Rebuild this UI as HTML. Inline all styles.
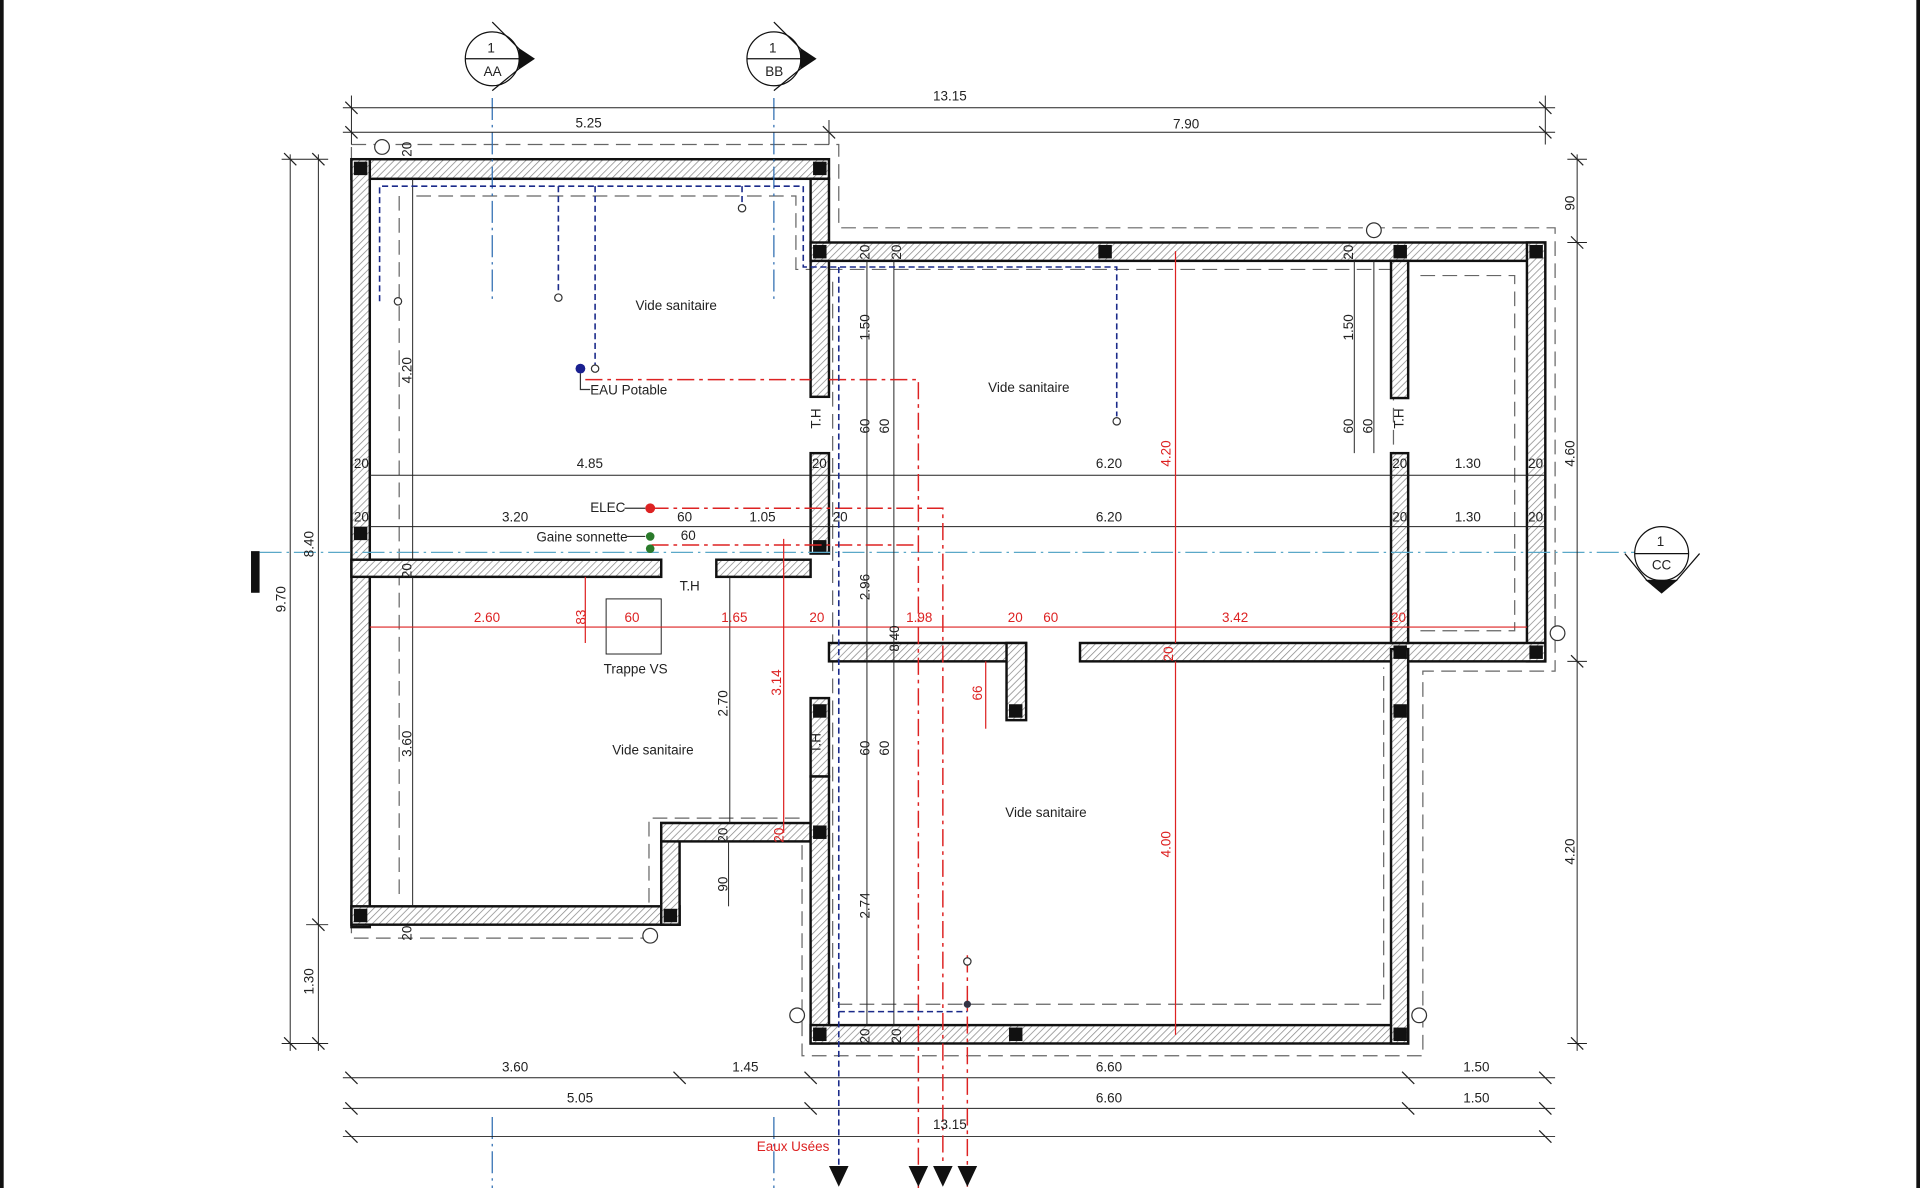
<!DOCTYPE html>
<html><head><meta charset="utf-8"><style>
html,body{margin:0;padding:0;background:#fff;}
svg{display:block;}
text{font-family:"Liberation Sans",sans-serif;font-size:11px;fill:#222;}
.r{fill:#d22;}
</style></head><body>
<svg width="1920" height="1188" viewBox="0 0 1568 970" preserveAspectRatio="none" xmlns="http://www.w3.org/2000/svg">
<defs>
<pattern id="h" width="4" height="4" patternUnits="userSpaceOnUse" patternTransform="rotate(45)">
<rect width="4" height="4" fill="#fff"/><line x1="0" y1="0" x2="0" y2="4" stroke="#888" stroke-width="1.2"/>
</pattern>
</defs>
<rect width="1568" height="970" fill="#fff"/>
<rect x="0" y="0" width="3" height="970" fill="#111"/>
<rect x="1565" y="0" width="3" height="970" fill="#111"/>

<!-- outer dashed foundation lines -->
<g fill="none" stroke="#666" stroke-width="1" stroke-dasharray="12,6">
<path d="M287,118 H685 V186 H1270 V548 H1162 V862 H655 V668 H530 V766 H287 Z"/>
<path d="M326,160 V730 M340,160 H650 V220 H1138 M680,230 V820 H1130 V545 M1160,225 H1237 V515 H1160 M1138,225 V515"/>
</g>

<!-- walls -->
<g fill="url(#h)" stroke="#111" stroke-width="2">
<rect x="287" y="130" width="390" height="16"/>
<rect x="287" y="130" width="15" height="627"/>
<rect x="287" y="740" width="268" height="15"/>
<rect x="540" y="672" width="15" height="83"/>
<rect x="540" y="672" width="122" height="15"/>
<rect x="662" y="146" width="15" height="178"/>
<rect x="662" y="370" width="15" height="82"/>
<rect x="662" y="570" width="15" height="64"/>
<rect x="662" y="634" width="15" height="218"/>
<rect x="662" y="198" width="600" height="15"/>
<rect x="1247" y="198" width="15" height="342"/>
<rect x="882" y="525" width="380" height="15"/>
<rect x="677" y="525" width="161" height="15"/>
<rect x="822" y="525" width="16" height="63"/>
<rect x="662" y="837" width="488" height="15"/>
<rect x="1136" y="530" width="14" height="322"/>
<rect x="1136" y="213" width="14" height="112"/>
<rect x="1136" y="370" width="14" height="155"/>
<rect x="287" y="457" width="253" height="14"/>
<rect x="585" y="457" width="77" height="14"/>
</g>
<g fill="#111">
<rect x="289" y="132" width="11" height="11"/><rect x="664" y="132" width="11" height="11"/>
<rect x="664" y="200" width="11" height="11"/><rect x="897" y="200" width="11" height="11"/>
<rect x="1138" y="200" width="11" height="11"/><rect x="1249" y="200" width="11" height="11"/>
<rect x="289" y="430" width="11" height="11"/><rect x="664" y="441" width="11" height="11"/>
<rect x="664" y="575" width="11" height="11"/><rect x="824" y="575" width="11" height="11"/>
<rect x="1138" y="527" width="11" height="11"/><rect x="1249" y="527" width="11" height="11"/>
<rect x="1138" y="575" width="11" height="11"/>
<rect x="664" y="674" width="11" height="11"/><rect x="542" y="742" width="11" height="11"/>
<rect x="289" y="742" width="11" height="11"/>
<rect x="664" y="839" width="11" height="11"/><rect x="824" y="839" width="11" height="11"/>
<rect x="1138" y="839" width="11" height="11"/>
<rect x="205" y="450" width="7" height="34"/>
</g>

<!-- axis lines -->
<g stroke="#2a6ab0" stroke-width="1" stroke-dasharray="18,4,2,4" fill="none">
<line x1="402" y1="80" x2="402" y2="245"/><line x1="632" y1="80" x2="632" y2="245"/>
<line x1="402" y1="912" x2="402" y2="970"/><line x1="632" y1="912" x2="632" y2="970"/>
</g>
<line x1="212" y1="451" x2="1335" y2="451" stroke="#5aa8c8" stroke-dasharray="18,4,2,4"/>

<!-- section markers -->
<g stroke="#111" fill="#fff" stroke-width="1">
<circle cx="402" cy="48" r="22"/><line x1="380" y1="48" x2="424" y2="48"/>
<path d="M424,40 L436,48 L424,56" fill="#111"/><path d="M402,18 L424,40 L424,56 L402,74" fill="none"/>
<circle cx="632" cy="48" r="22"/><line x1="610" y1="48" x2="654" y2="48"/>
<path d="M654,40 L666,48 L654,56" fill="#111"/><path d="M632,18 L654,40 L654,56 L632,74" fill="none"/>
<circle cx="1357" cy="452" r="22"/><line x1="1335" y1="452" x2="1379" y2="452"/>
<path d="M1345,474 L1357,484 L1369,474 Z" fill="#111"/><path d="M1327,452 L1345,474 L1369,474 L1388,452" fill="none"/>
</g>
<g font-size="11">
<text x="398" y="43">1</text><text x="395" y="62">AA</text>
<text x="628" y="43">1</text><text x="625" y="62">BB</text>
<text x="1353" y="446">1</text><text x="1349" y="465">CC</text>
</g>

<!-- dimension lines -->
<g stroke="#222" stroke-width="0.8" fill="none">
<line x1="280" y1="88" x2="1270" y2="88"/><line x1="280" y1="108" x2="1270" y2="108"/>
<line x1="280" y1="880" x2="1270" y2="880"/><line x1="280" y1="905" x2="1270" y2="905"/><line x1="280" y1="928" x2="1270" y2="928"/>
<line x1="237" y1="126" x2="237" y2="858"/><line x1="260" y1="126" x2="260" y2="858"/>
<line x1="1288" y1="126" x2="1288" y2="858"/>
<line x1="287" y1="78" x2="287" y2="118"/><line x1="677" y1="98" x2="677" y2="118"/><line x1="1262" y1="78" x2="1262" y2="118"/>
<line x1="230" y1="130" x2="268" y2="130"/><line x1="230" y1="852" x2="268" y2="852"/><line x1="250" y1="755" x2="268" y2="755"/>
<line x1="1280" y1="130" x2="1296" y2="130"/><line x1="1280" y1="198" x2="1296" y2="198"/><line x1="1280" y1="540" x2="1296" y2="540"/><line x1="1280" y1="852" x2="1296" y2="852"/>
<line x1="302" y1="388" x2="1262" y2="388"/><line x1="302" y1="430" x2="1262" y2="430"/>
<line x1="596" y1="471" x2="596" y2="672"/><line x1="708" y1="213" x2="708" y2="837"/><line x1="730" y1="213" x2="730" y2="837"/>
<line x1="1106" y1="213" x2="1106" y2="370"/><line x1="1122" y1="213" x2="1122" y2="370"/>
<line x1="337" y1="146" x2="337" y2="457"/><line x1="337" y1="471" x2="337" y2="740"/>
<line x1="595" y1="687" x2="595" y2="740"/>
<rect x="495" y="489" width="45" height="45"/>
</g>
<g stroke="#222" stroke-width="1">
<path d="M282,83 l10,10 M1257,83 l10,10 M282,103 l10,10 M672,103 l10,10 M1257,103 l10,10 M282,875 l10,10 M550,875 l10,10 M657,875 l10,10 M1145,875 l10,10 M1257,875 l10,10 M282,900 l10,10 M657,900 l10,10 M1145,900 l10,10 M1257,900 l10,10 M282,923 l10,10 M1257,923 l10,10 M232,125 l10,10 M255,125 l10,10 M232,847 l10,10 M255,847 l10,10 M255,750 l10,10 M1283,125 l10,10 M1283,193 l10,10 M1283,535 l10,10 M1283,847 l10,10"/>
</g>

<!-- red lines -->
<g stroke="#d22" stroke-width="1" fill="none">
<line x1="302" y1="512" x2="1247" y2="512"/>
<line x1="960" y1="205" x2="960" y2="525"/><line x1="960" y1="540" x2="960" y2="845"/>
<line x1="640" y1="440" x2="640" y2="680"/><line x1="478" y1="471" x2="478" y2="525"/><line x1="805" y1="540" x2="805" y2="595"/>
</g>
<g stroke="#d22" stroke-width="1.2" fill="none" stroke-dasharray="14,4,3,4">
<path d="M478,310 H662 M677,310 H750 V970"/>
<path d="M532,415 H770 V970"/>
<path d="M532,445 H750"/>
<path d="M790,780 V970"/>
</g>
<!-- blue water lines -->
<g stroke="#1a2a8a" stroke-width="1.3" fill="none" stroke-dasharray="5,3">
<path d="M310,246 V152 H656 V218 H912 V340"/>
<path d="M456,152 V240 M486,152 V300 M606,152 V168"/>
<path d="M685,218 V955 M685,826 H790"/>
</g>
<g fill="#fff" stroke="#333">
<circle cx="325" cy="246" r="3"/><circle cx="456" cy="243" r="3"/><circle cx="486" cy="301" r="3"/><circle cx="606" cy="170" r="3"/><circle cx="912" cy="344" r="3"/><circle cx="790" cy="785" r="3"/>
</g>
<circle cx="474" cy="301" r="4" fill="#1a2090"/>
<circle cx="790" cy="820" r="3" fill="#334"/>
<circle cx="531" cy="415" r="4" fill="#d22"/>
<circle cx="531" cy="438" r="3.5" fill="#2a7a2a"/><circle cx="531" cy="448" r="3.5" fill="#2a7a2a"/>
<path d="M474,305 V318 H482 M510,415 H527 M512,438 H527" stroke="#333" fill="none"/>
<g fill="#111"><path d="M677,952 h16 l-8,17z M742,952 h16 l-8,17z M762,952 h16 l-8,17z M782,952 h16 l-8,17z"/></g>
<g fill="#fff" stroke="#333"><circle cx="312" cy="120" r="6"/><circle cx="1122" cy="188" r="6"/><circle cx="1272" cy="517" r="6"/><circle cx="531" cy="764" r="6"/><circle cx="651" cy="829" r="6"/><circle cx="1159" cy="829" r="6"/></g>

<!-- texts -->
<text x="762" y="82">13.15</text><text x="470" y="104">5.25</text><text x="958" y="105">7.90</text>
<text x="410" y="875">3.60</text><text x="598" y="875">1.45</text><text x="895" y="875">6.60</text><text x="1195" y="875">1.50</text>
<text x="463" y="900">5.05</text><text x="895" y="900">6.60</text><text x="1195" y="900">1.50</text>
<text x="762" y="922">13.15</text>
<text x="519" y="253">Vide sanitaire</text><text x="807" y="320">Vide sanitaire</text><text x="500" y="616">Vide sanitaire</text><text x="821" y="667">Vide sanitaire</text>
<text x="482" y="322">EAU Potable</text><text x="482" y="418">ELEC</text><text x="438" y="442">Gaine sonnette</text>
<text x="493" y="550">Trappe VS</text>
<text x="471" y="382">4.85</text><text x="895" y="382">6.20</text><text x="1188" y="382">1.30</text>
<text x="410" y="426">3.20</text><text x="553" y="426">60</text><text x="612" y="426">1.05</text><text x="680" y="426">20</text><text x="895" y="426">6.20</text><text x="1188" y="426">1.30</text>
<text x="556" y="441">60</text>
<text x="289" y="382">20</text><text x="663" y="382">20</text><text x="1137" y="382">20</text><text x="1248" y="382">20</text>
<text x="289" y="426">20</text><text x="1137" y="426">20</text><text x="1248" y="426">20</text>
<text x="555" y="482" font-size="8">T.H</text>
<text class="r" x="387" y="508">2.60</text><text class="r" x="510" y="508">60</text><text class="r" x="589" y="508">1.65</text><text class="r" x="661" y="508">20</text><text class="r" x="740" y="508">1.98</text><text class="r" x="823" y="508">20</text><text class="r" x="852" y="508">60</text><text class="r" x="998" y="508">3.42</text><text class="r" x="1136" y="508">20</text>
<text class="r" x="618" y="940" font-size="12">Eaux Usées</text>
<g font-size="11">
<text transform="translate(336,313) rotate(-90)">4.20</text>
<text transform="translate(336,618) rotate(-90)">3.60</text>
<text transform="translate(256,455) rotate(-90)">8.40</text>
<text transform="translate(233,500) rotate(-90)">9.70</text>
<text transform="translate(256,812) rotate(-90)">1.30</text>
<text transform="translate(1286,172) rotate(-90)">90</text>
<text transform="translate(1286,381) rotate(-90)">4.60</text>
<text transform="translate(1286,706) rotate(-90)">4.20</text>
<text transform="translate(710,278) rotate(-90)">1.50</text>
<text transform="translate(1105,278) rotate(-90)">1.50</text>
<text transform="translate(710,354) rotate(-90)">60</text><text transform="translate(726,354) rotate(-90)">60</text>
<text transform="translate(1105,354) rotate(-90)">60</text><text transform="translate(1121,354) rotate(-90)">60</text>
<text transform="translate(710,617) rotate(-90)">60</text><text transform="translate(726,617) rotate(-90)">60</text>
<text transform="translate(710,490) rotate(-90)">2.96</text>
<text transform="translate(734,532) rotate(-90)">8.40</text>
<text transform="translate(594,585) rotate(-90)">2.70</text>
<text transform="translate(710,750) rotate(-90)">2.74</text>
<text transform="translate(594,728) rotate(-90)">90</text>
<text transform="translate(336,128) rotate(-90)">20</text><text transform="translate(336,768) rotate(-90)">20</text>
<text transform="translate(710,212) rotate(-90)">20</text><text transform="translate(736,212) rotate(-90)">20</text>
<text transform="translate(1105,212) rotate(-90)">20</text>
<text transform="translate(336,472) rotate(-90)">20</text>
<text transform="translate(594,688) rotate(-90)">20</text>
<text transform="translate(710,852) rotate(-90)">20</text><text transform="translate(736,852) rotate(-90)">20</text>
<text transform="translate(670,350) rotate(-90)" font-size="8">T.H</text>
<text transform="translate(670,615) rotate(-90)" font-size="8">T.H</text>
<text transform="translate(1146,350) rotate(-90)" font-size="8">T.H</text>
<text class="r" transform="translate(956,381) rotate(-90)">4.20</text>
<text class="r" transform="translate(956,700) rotate(-90)">4.00</text>
<text class="r" transform="translate(638,568) rotate(-90)">3.14</text>
<text class="r" transform="translate(478,510) rotate(-90)">83</text>
<text class="r" transform="translate(802,572) rotate(-90)">66</text>
<text class="r" transform="translate(640,688) rotate(-90)">20</text>
<text class="r" transform="translate(958,540) rotate(-90)">20</text>
</g>
</svg>
</body></html>
